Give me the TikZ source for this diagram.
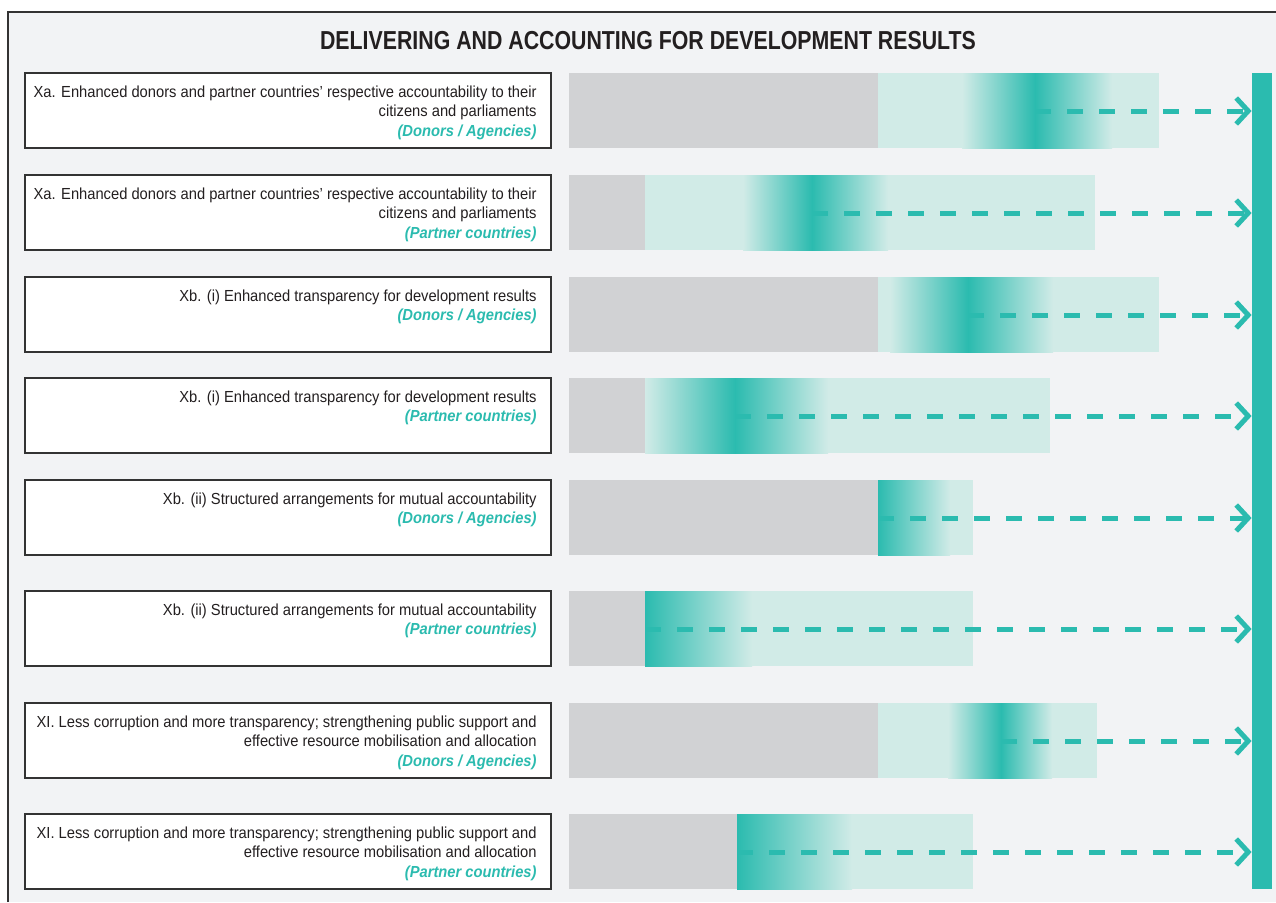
\documentclass[tikz,border=0pt]{standalone}
\usepackage{fontspec}
\setmainfont{Liberation Sans}[FakeStretch=0.92]
\newfontfamily\fuentetitulo{Liberation Sans}[FakeStretch=0.82]
\usetikzlibrary{arrows.meta}
\definecolor{turquesa}{HTML}{2BBBAF}
\definecolor{turqclaro}{HTML}{D1EBE7}
\definecolor{grisbarra}{HTML}{D1D2D4}
\definecolor{fondo}{HTML}{F2F3F5}
\definecolor{tinta}{HTML}{231F20}

\begin{document}
\begin{tikzpicture}[x=0.5pt,y=-0.5pt]
% estilos de linea y relleno
\tikzstyle{marco} = [line width=1pt,draw=black!80]
\tikzstyle{caja} = [draw=black!80,line width=0.6pt,fill=white,minimum width=263pt,minimum height=37.5pt,inner sep=0pt]
\tikzstyle{texto} = [inner sep=0pt,align=right,text=tinta,font=\fontsize{8}{9.75}\selectfont]
\tikzstyle{titulo} = [inner sep=0pt,text=tinta,font=\fuentetitulo\fontsize{13}{15}\selectfont\bfseries]
\tikzstyle{barra} = [fill=turquesa,minimum width=10pt,minimum height=408pt,inner sep=0pt]
\tikzstyle{flecha} = [turquesa,line width=2.5pt,dash pattern=on 8pt off 8pt,-{Straight Barb[length=6pt,width=13pt]}]
% definicion de una fila
% #1: numero de la fila
% #2: borde superior de la fila
% #3: fin de la barra gris
% #4: inicio del degradado
% #5: maximo del degradado (inicio de la flecha)
% #6: fin del degradado
% #7: fin de la barra clara
% #8: texto del indicador
% #9: grupo
\newcommand{\fila}[9]{
\node [caja] (caja#1) at (288,#2+37.5) {};
\node [texto,anchor=north east] (texto#1) at (537,#2+12)
{#8\\ \textcolor{turquesa}{\bfseries\itshape #9}};
\fill [grisbarra] (569,#2) rectangle (#3,#2+75);
\fill [turqclaro] (#3,#2) rectangle (#7,#2+75);
\ifnum#4<#5 \shade [left color=turqclaro,right color=turquesa] (#4,#2) rectangle (#5,#2+75); \fi
\shade [left color=turquesa,right color=turqclaro] (#5,#2) rectangle (#6,#2+75);
\coordinate (pico#1) at (#5,#2+38);
\draw [flecha] (pico#1) -- (pico#1 -| barra.west);
}
% --------------------------------------
% fondo y marco
\useasboundingbox (0,0) rectangle (1276,902);
\fill [white] (0,0) rectangle (1276,902);
\fill [fondo] (8,12) rectangle (1276,902);
\draw [marco] (8,902) -- (8,12) -- (1276,12);
% titulo
\node [titulo] (titulo) at (648,41) {DELIVERING AND ACCOUNTING FOR DEVELOPMENT RESULTS};
% barra vertical de meta
\node [barra] (barra) at (1262,481) {};
% dibujar filas
\fila{1}{73}{878}{962}{1035}{1112}{1159}{Xa. Enhanced donors and partner countries’ respective accountability to their\\citizens and parliaments}{(Donors / Agencies)}
\fila{2}{175}{645}{743}{812}{888}{1095}{Xa. Enhanced donors and partner countries’ respective accountability to their\\citizens and parliaments}{(Partner countries)}
\fila{3}{277}{878}{890}{968}{1053}{1159}{Xb. (i) Enhanced transparency for development results}{(Donors / Agencies)}
\fila{4}{378}{645}{645}{735}{828}{1050}{Xb. (i) Enhanced transparency for development results}{(Partner countries)}
\fila{5}{480}{878}{878}{878}{950}{973}{Xb. (ii) Structured arrangements for mutual accountability}{(Donors / Agencies)}
\fila{6}{591}{645}{645}{645}{752}{973}{Xb. (ii) Structured arrangements for mutual accountability}{(Partner countries)}
\fila{7}{703}{878}{948}{1001}{1052}{1097}{XI. Less corruption and more transparency; strengthening public support and\\effective resource mobilisation and allocation}{(Donors / Agencies)}
\fila{8}{814}{737}{737}{737}{852}{973}{XI. Less corruption and more transparency; strengthening public support and\\effective resource mobilisation and allocation}{(Partner countries)}
% --------------------------------------
\end{tikzpicture}
\end{document}
